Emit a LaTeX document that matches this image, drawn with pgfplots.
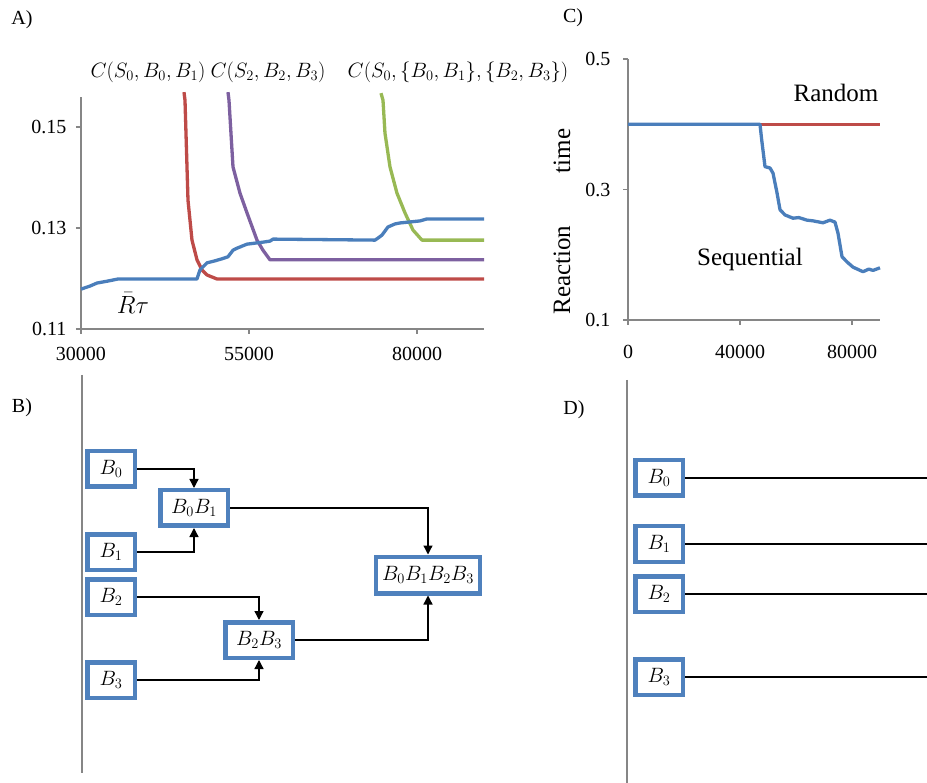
\documentclass[border=0pt]{standalone}
\usepackage{fontspec}
\setmainfont{Liberation Serif}
\usepackage{pgfplots}
\pgfplotsset{compat=1.18}
\usetikzlibrary{arrows.meta}
\definecolor{xlblue}{HTML}{4A7EBB}
\definecolor{boxblue}{HTML}{4F81BD}
\definecolor{xlred}{HTML}{BE4B48}
\definecolor{xlpurple}{HTML}{7D60A0}
\definecolor{xlgreen}{HTML}{98B954}
\definecolor{axgray}{HTML}{868686}
\begin{document}
\begin{tikzpicture}[x=1pt,y=1pt]
\useasboundingbox (0,0) rectangle (927,-783);
% ---------------- Panel A
\begin{axis}[
  at={(81pt,-329pt)}, anchor=south west, scale only axis,
  width=403.2pt, height=232.3pt,
  xmin=30000, xmax=90000, ymin=0.11, ymax=0.156,
  axis lines=left, axis line style={axgray, line width=1.2pt, -},
  tick align=outside, major tick length=5pt, tick style={axgray, line width=1.2pt},
  scaled x ticks=false, scaled y ticks=false,
  xtick={30000,55000,80000}, xticklabels={30000,55000,80000},
  ytick={0.11,0.13,0.15}, yticklabels={0.11,0.13,0.15},
  ticklabel style={font=\fontsize{20}{22}\selectfont},
  xticklabel style={yshift=-10pt},
  yticklabel style={xshift=-6pt},
  clip=false, line join=round,
]
\addplot[xlred, line width=3.3pt] coordinates {
(45327,0.1569) (45476,0.1553) (45922,0.1355) (46517,0.1276) (47261,0.1237)
(48005,0.1217) (48749,0.1207) (50237,0.1199) (90000,0.1199)};
\addplot[xlpurple, line width=3.3pt] coordinates {
(51874,0.1569) (52022,0.1553) (52618,0.1421) (53659,0.1369) (54701,0.1330)
(56189,0.1276) (57082,0.1256) (58123,0.1237) (90000,0.1237)};
\addplot[xlgreen, line width=3.3pt] coordinates {
(74640,0.1567) (74940,0.1553) (75235,0.1488) (75980,0.1421) (77020,0.1369)
(78210,0.1330) (79400,0.1296) (80740,0.1276) (90000,0.1276)};
\addplot[xlblue, line width=3.3pt] coordinates {
(30000,0.1179) (31340,0.1185) (32380,0.1191) (34020,0.1195) (35510,0.1199)
(47260,0.1199) (47710,0.1217) (48750,0.1231) (49940,0.1235) (50980,0.1239)
(51870,0.1243) (52620,0.1256) (53210,0.1260) (54700,0.1268) (57080,0.1272)
(58120,0.1274) (58570,0.1278) (73750,0.1276) (74190,0.1280) (74790,0.1286)
(75680,0.1302) (76720,0.1308) (77470,0.1310) (80440,0.1314) (81490,0.1318)
(90000,0.1318)};
\end{axis}
% ---------------- Panel C
\begin{axis}[
  at={(628pt,-320pt)}, anchor=south west, scale only axis,
  width=252pt, height=261pt,
  xmin=0, xmax=90000, ymin=0.1, ymax=0.5,
  axis lines=left, axis line style={axgray, line width=1.2pt, -},
  tick align=outside, major tick length=5pt, tick style={axgray, line width=1.2pt},
  scaled x ticks=false, scaled y ticks=false,
  xtick={0,40000,80000}, xticklabels={0,40000,80000},
  ytick={0.1,0.3,0.5}, yticklabels={0.1,0.3,0.5},
  ticklabel style={font=\fontsize{20}{22}\selectfont},
  xticklabel style={yshift=-17pt},
  yticklabel style={xshift=-9pt},
  clip=false, line join=round,
]
\addplot[xlred, line width=3.3pt] coordinates {(0,0.4) (90000,0.4)};
\addplot[xlblue, line width=3.3pt] coordinates {
(0,0.4) (47140,0.4) (47750,0.376) (48930,0.335) (50710,0.333) (51790,0.325)
(53210,0.295) (54290,0.269) (56070,0.261) (58930,0.256) (61000,0.257)
(63930,0.253) (66000,0.252) (69640,0.249) (72140,0.253) (73930,0.250)
(75000,0.233) (76430,0.197) (78210,0.189) (80360,0.181) (83930,0.174)
(86000,0.178) (87500,0.176) (90000,0.180)};
\end{axis}
% ---------------- texts
\begin{scope}[font=\fontsize{20}{22}\selectfont]
\node at (22,-20) {A)};
\node at (22,-408) {B)};
\node at (573,-18) {C)};
\node at (574,-410) {D)};
\node at (148,-72) {$C(S_0,B_0,B_1)$};
\node at (268,-72) {$C(S_2,B_2,B_3)$};
\node at (458,-72) {$C(S_0,\{B_0,B_1\},\{B_2,B_3\})$};
\end{scope}
\node[font=\fontsize{24}{26}\selectfont] at (133,-303) {$\bar{R}\tau$};
\begin{scope}[font=\fontsize{25}{27}\selectfont]
\node at (836,-93) {Random};
\node at (750,-259) {Sequential};
\node[rotate=90] at (562,-270) {Reaction};
\node[rotate=90] at (562,-151) {time};
\end{scope}
% ---------------- Panel B
\draw[axgray, line width=1.5pt] (82,-375) -- (82,-773);
\tikzset{bx/.style={draw=boxblue, line width=4.5pt, inner sep=0pt,
  font=\fontsize{20}{22}\selectfont, minimum height=35.5pt, minimum width=47.5pt, fill=white}}
\node[bx] (b0) at (111,-469) {$B_0$};
\node[bx] (b1) at (111,-552) {$B_1$};
\node[bx] (b2) at (111,-597) {$B_2$};
\node[bx] (b3) at (111,-680) {$B_3$};
\node[bx, minimum width=67.5pt] (b01) at (194,-508) {$B_0B_1$};
\node[bx, minimum width=67.5pt] (b23) at (259,-640) {$B_2B_3$};
\node[bx, minimum width=104pt, minimum height=36.5pt] (b0123) at (428,-575) {$B_0B_1B_2B_3$};
\begin{scope}[line width=1.3pt, -{Triangle[length=9pt,width=9pt]}]
\draw (b0.east) -| (b01.north);
\draw (b1.east) -| (b01.south);
\draw (b01.east) -| (b0123.north);
\draw (b2.east) -| (b23.north);
\draw (b3.east) -| (b23.south);
\draw (b23.east) -| (b0123.south);
\end{scope}
% ---------------- Panel D
\draw[axgray, line width=1.5pt] (627,-380) -- (627,-783);
\node[bx] (d0) at (659,-478) {$B_0$};
\node[bx] (d1) at (659,-544) {$B_1$};
\node[bx] (d2) at (659,-594) {$B_2$};
\node[bx] (d3) at (659,-677) {$B_3$};
\foreach \n in {d0,d1,d2,d3} \draw[line width=1.3pt] (\n.east) -- (\n.east -| 927,0);
\end{tikzpicture}
\end{document}
